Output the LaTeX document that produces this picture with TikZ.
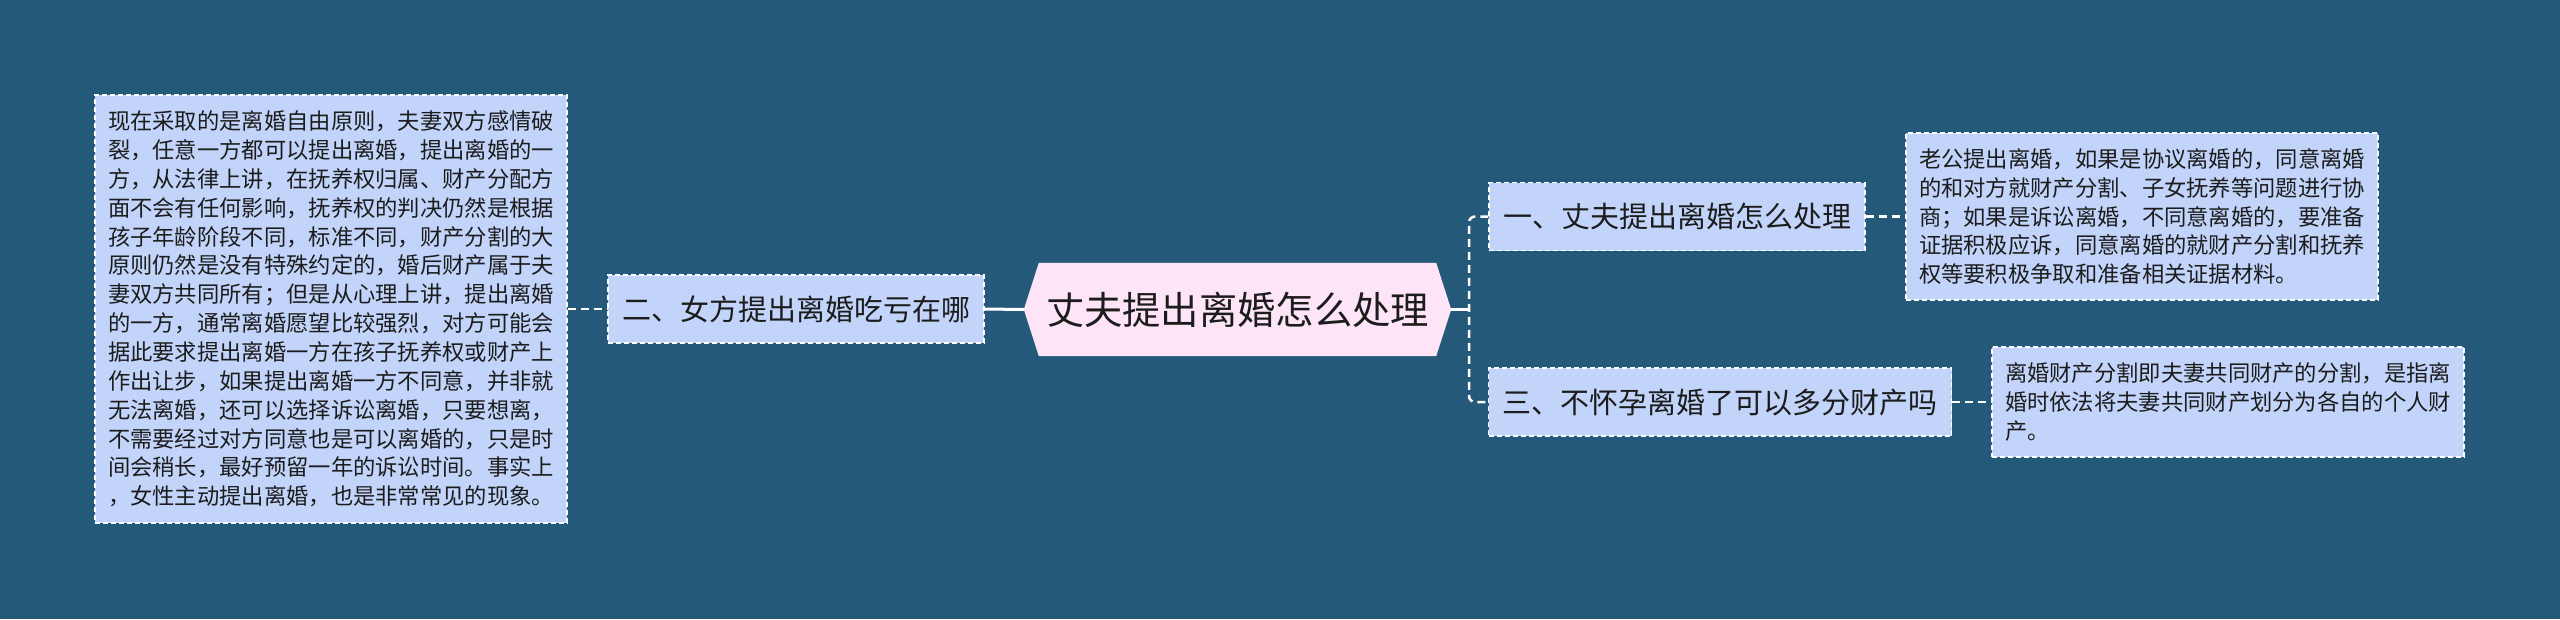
\documentclass[tikz,border=0pt]{standalone}
\usepackage{fontspec}
\newfontfamily\cjk{Noto Sans CJK SC}
\usetikzlibrary{backgrounds}
\definecolor{bgc}{RGB}{36,89,122}
\definecolor{boxfill}{RGB}{194,212,250}
\definecolor{rootfill}{RGB}{253,229,247}
\definecolor{txt}{RGB}{28,28,28}
\tikzset{
  textbox/.style={draw=white, line width=1.3pt, dash pattern=on 5pt off 3pt, fill=boxfill,
    text=txt, align=left, inner sep=0pt,
    font=\cjk\fontsize{22.3pt}{28.85pt}\selectfont},
  topicbox/.style={draw=white, line width=1.3pt, dash pattern=on 5pt off 3pt, fill=boxfill,
    text=txt, inner xsep=14pt, inner ysep=0pt, minimum height=68pt,
    font=\cjk\fontsize{29pt}{34pt}\selectfont},
  rootbox/.style={text=txt, inner sep=0pt, minimum width=427pt, minimum height=93pt,
    font=\cjk\fontsize{38.3pt}{44pt}\selectfont},
  dconn/.style={draw=white, line width=2.5pt, dash pattern=on 8pt off 5pt},
  sconn/.style={draw=white, line width=3pt}
}
\begin{document}
\begin{tikzpicture}[x=1pt,y=-1pt]
\useasboundingbox (0,0) rectangle (2560,619);

% root
\node[rootbox] (C) at (1237.5,309.5) {丈夫提出离婚怎么处理};
\begin{scope}[on background layer]
\fill[bgc] (0,0) rectangle (2560,619);
\fill[rootfill] (C.west) -- ([xshift=15pt]C.north west) -- ([xshift=-15pt]C.north east)
  -- (C.east) -- ([xshift=-15pt]C.south east) -- ([xshift=15pt]C.south west) -- cycle;
\end{scope}

% topics
\node[topicbox, minimum width=376pt] (N2) at (796,309) {二、女方提出离婚吃亏在哪};
\node[topicbox, minimum width=376pt] (N1) at (1677,216.5) {一、丈夫提出离婚怎么处理};
\node[topicbox, minimum width=462pt] (N3) at (1720,402) {三、不怀孕离婚了可以多分财产吗};

% detail boxes
\node[textbox, minimum width=472pt, minimum height=428pt] (L) at (331,309) {%
现在采取的是离婚自由原则，夫妻双方感情破\\
裂，任意一方都可以提出离婚，提出离婚的一\\
方，从法律上讲，在抚养权归属、财产分配方\\
面不会有任何影响，抚养权的判决仍然是根据\\
孩子年龄阶段不同，标准不同，财产分割的大\\
原则仍然是没有特殊约定的，婚后财产属于夫\\
妻双方共同所有；但是从心理上讲，提出离婚\\
的一方，通常离婚愿望比较强烈，对方可能会\\
据此要求提出离婚一方在孩子抚养权或财产上\\
作出让步，如果提出离婚一方不同意，并非就\\
无法离婚，还可以选择诉讼离婚，只要想离，\\
不需要经过对方同意也是可以离婚的，只是时\\
间会稍长，最好预留一年的诉讼时间。事实上\\
，女性主动提出离婚，也是非常常见的现象。};

\node[textbox, minimum width=472pt, minimum height=167pt] (R1) at (2142,216.5) {%
老公提出离婚，如果是协议离婚的，同意离婚\\
的和对方就财产分割、子女抚养等问题进行协\\
商；如果是诉讼离婚，不同意离婚的，要准备\\
证据积极应诉，同意离婚的就财产分割和抚养\\
权等要积极争取和准备相关证据材料。};

\node[textbox, minimum width=472pt, minimum height=110pt] (R3) at (2228,402) {%
离婚财产分割即夫妻共同财产的分割，是指离\\
婚时依法将夫妻共同财产划分为各自的个人财\\
产。};

% connectors
\coordinate (J) at (1469,309.5);
\draw[dconn] (L.east) -- (N2.west);
\draw[sconn] (N2.east) -- (C.west);
\draw[sconn] (C.east) -- (J);
\draw[dconn, rounded corners=6pt] (N1.west) -| (J) |- (N3.west);
\draw[dconn] (N1.east) -- (R1.west);
\draw[dconn] (N3.east) -- (R3.west);
\end{tikzpicture}
\end{document}
